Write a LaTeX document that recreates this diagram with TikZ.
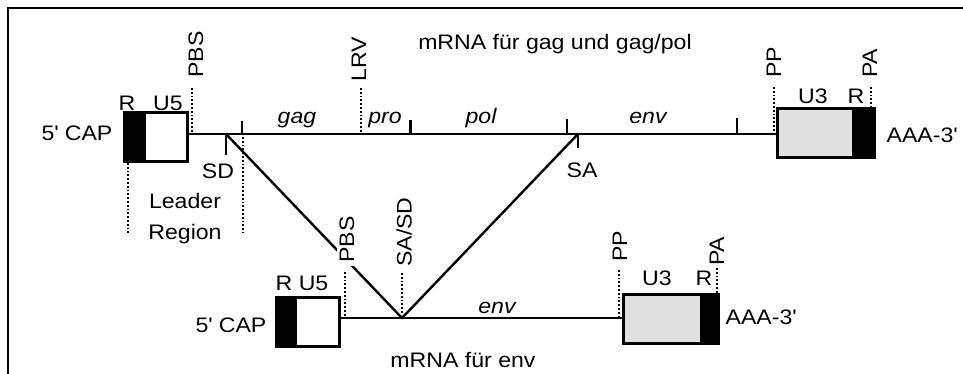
\documentclass[tikz,border=0pt]{standalone}
\usepackage{fontspec}
\setmainfont{Liberation Sans}[FakeStretch=1.1]

\tikzset{
  lbl/.style={inner sep=0pt, font=\fontsize{21}{23}\selectfont},
  gene/.style={lbl, anchor=base, font=\fontsize{21}{23}\selectfont\itshape},
  sitelbl/.style={lbl, rotate=90, anchor=west},
  strand/.style={line width=2pt},
  splice/.style={line width=2.4pt},
  tick/.style={line width=1.4pt},
  site/.style={line width=1.8pt, dotted},
  ltr/.style={draw, line width=2pt, inner sep=0pt, minimum height=48pt},
  capR/.style={fill=black, inner sep=0pt, minimum height=48pt},
}

\begin{document}
\begin{tikzpicture}[x=1pt,y=-1pt]
    \useasboundingbox (0,0) rectangle (963,374);
    % Frame
    \coordinate (fa) at (8,374);
    \coordinate (fb) at (8,8);
    \coordinate (fc) at (963,8);
    \draw[line width=2pt] (fa) -- (fb) -- (fc);

    % mRNA 1 (gag und gag/pol)
    % Boxes
    \node[ltr, minimum width=62pt] (ltrA) at (156,137.5) {};
    \node[capR, minimum width=22pt, anchor=west] (rA) at (ltrA.west) {};
    \draw[line width=2pt] (ltrA.south west) rectangle (ltrA.north east);
    \node[ltr, fill=black!12, minimum width=96pt] (ltrB) at (826,133.5) {};
    \node[capR, minimum width=23pt, anchor=east] (rB) at (ltrB.east) {};
    \draw[line width=2pt] (ltrB.south west) rectangle (ltrB.north east);

    % Points on the strand
    \coordinate (sdA) at (226,134);
    \coordinate (saA) at (578,134);

    % Edges
    \draw[strand] (ltrA.east |- 0,134) -- (ltrB.west |- 0,134);
    \draw[tick] (242,121) -- (242,134);
    \draw[line width=3pt] (410,120) -- (410,134);
    \draw[tick] (567,119) -- (567,134);
    \draw[tick] (737,118) -- (737,134);
    \draw[tick] (sdA) -- (226,155);
    \draw[tick] (saA) -- (578,148);

    % Sites
    \draw[site] (192,88) -- (192,134);
    \draw[site] (361,88) -- (361,134);
    \draw[site] (774,87) -- (774,132);
    \draw[site] (871,87) -- (871,109);
    \draw[site] (128,163) -- (128,233);
    \draw[site] (243,137) -- (243,233);

    % Labels
    \node[lbl] (title1) at (555,44) {mRNA für gag und gag/pol};
    \node[lbl] (cap5A) at (77,133) {5\textquotesingle{} CAP};
    \node[lbl] (rlblA) at (127,103) {R};
    \node[lbl] (u5A) at (168,103) {U5};
    \node[sitelbl] (pbsA) at (196,78) {PBS};
    \node[sitelbl] (lrv) at (359,82) {LRV};
    \node[sitelbl] (ppA) at (774,78) {PP};
    \node[sitelbl] (paA) at (870,78) {PA};
    \node[lbl] (u3A) at (813,96) {U3};
    \node[lbl] (rlblB) at (856,96) {R};
    \node[lbl] (aaaA) at (922,135) {AAA-3\textquotesingle};
    \node[gene] (gag) at (297,124) {gag};
    \node[gene] (pro) at (385,124) {pro};
    \node[gene] (pol) at (481,124) {pol};
    \node[gene] (envA) at (648,124) {env};
    \node[lbl] (sdlbl) at (218,171) {SD};
    \node[lbl] (salbl) at (582,170) {SA};
    \node[lbl, align=center] (leader) at (185,219) {Leader\\[8pt]Region};

    % mRNA 2 (env)
    % Boxes
    \node[ltr, minimum width=62pt] (ltrC) at (308,321.5) {};
    \node[capR, minimum width=21pt, anchor=west] (rC) at (ltrC.west) {};
    \draw[line width=2pt] (ltrC.south west) rectangle (ltrC.north east);
    \node[ltr, fill=black!12, minimum width=94pt] (ltrD) at (671,318.5) {};
    \node[capR, minimum width=19pt, anchor=east] (rD) at (ltrD.east) {};
    \draw[line width=2pt] (ltrD.south west) rectangle (ltrD.north east);

    \coordinate (sasd) at (402,318);

    % Edges
    \draw[strand] (ltrC.east |- 0,318) -- (ltrD.west |- 0,318);
    \draw[splice] (sdA) -- (sasd) -- (saA);

    % Sites
    \draw[site] (345,272) -- (345,318);
    \draw[site] (402,273) -- (402,314);
    \draw[site] (619,270) -- (619,317);
    \draw[site] (717,268) -- (717,293);

    % Labels
    \node[sitelbl, fill=white, inner sep=3pt] (pbsC) at (347,266) {PBS};
    \node[sitelbl] (sasdlbl) at (404,267) {SA/SD};
    \node[sitelbl] (ppC) at (620,262) {PP};
    \node[sitelbl] (paC) at (717,266) {PA};
    \node[lbl] (rU5C) at (302,283) {R U5};
    \node[lbl] (cap5C) at (231,325) {5\textquotesingle{} CAP};
    \node[lbl] (u3C) at (657,278) {U3};
    \node[lbl] (rlblD) at (704,278) {R};
    \node[lbl] (aaaC) at (761,317) {AAA-3\textquotesingle};
    \node[gene] (envC) at (497,313) {env};
    \node[lbl] (title2) at (463,360) {mRNA für env};
\end{tikzpicture}
\end{document}
